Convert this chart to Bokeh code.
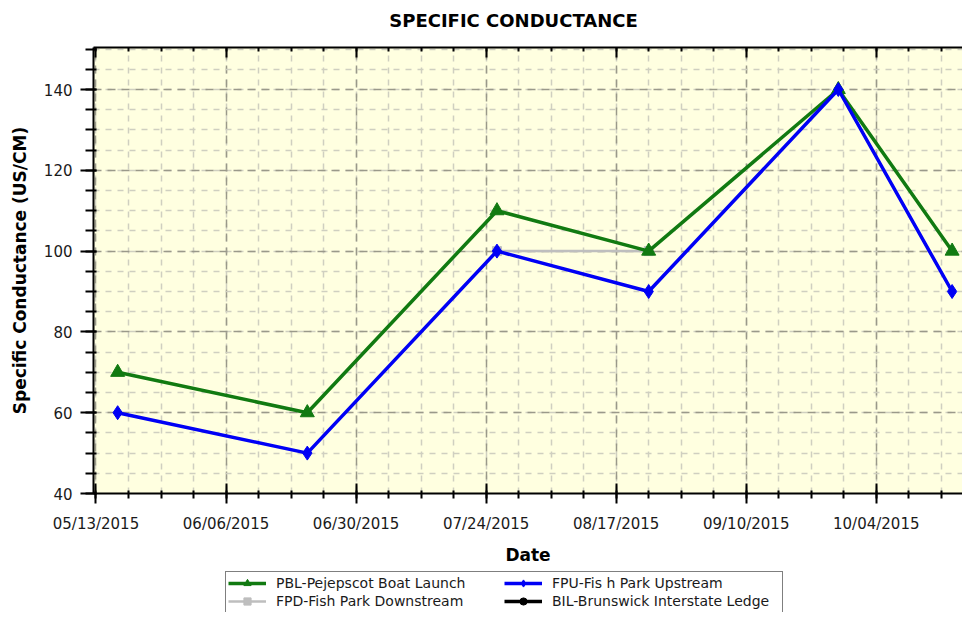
from datetime import datetime
from bokeh.plotting import figure
from bokeh.layouts import column
from bokeh.models import (DatetimeAxis, FixedTicker, DatetimeTickFormatter, Legend, LegendItem,
                          ColumnDataSource, Range1d, Label)
from bokeh.embed import file_html
from bokeh.resources import INLINE

# ---- data ----
dates = ["2015-05-17", "2015-06-21", "2015-07-26", "2015-08-23", "2015-09-27", "2015-10-18"]
pbl = [70, 60, 110, 100, 140, 100]
fpu = [60, 50, 100, 90, 140, 90]
fpd_dates = ["2015-07-26", "2015-08-23"]
fpd = [100, 100]
bil_dates = []
bil = []

major_dates = ["2015-05-13", "2015-06-06", "2015-06-30", "2015-07-24", "2015-08-17",
               "2015-09-10", "2015-10-04", "2015-10-28"]
y_major = [40, 60, 80, 100, 120, 140]
y_minor = list(range(40, 155, 5))

title_text = "SPECIFIC CONDUCTANCE"
x_label = "Date"
y_label = "Specific Conductance (US/CM)"
names = ["PBL-Pejepscot Boat Launch", "FPD-Fish Park Downstream",
         "FPU-Fis h Park Upstream", "BIL-Brunswick Interstate Ledge"]

def to_dt(s):
    return datetime.strptime(s, "%Y-%m-%d")

def ms(d):
    return (d - datetime(1970, 1, 1)).total_seconds() * 1000.0

DAY = 86400000.0
major_ms = [ms(to_dt(d)) for d in major_dates]
minor_ms = []
for m in major_ms:
    for k in range(4):
        minor_ms.append(m + k * 6 * DAY)

FONT = "DejaVu Sans"
W = 962
H_TITLE = 30
H_MAIN = 570 - H_TITLE
H_LEG = 612 - 570
LEFT = 93


def blank_strip(height):
    f = figure(width=W, height=height, output_backend="svg", toolbar_location=None,
               x_range=Range1d(0, 1), y_range=Range1d(0, 1),
               x_axis_location=None, y_axis_location=None)
    f.min_border_left = 0
    f.min_border_right = 0
    f.min_border_top = 0
    f.min_border_bottom = 0
    f.outline_line_color = None
    f.grid.visible = False
    f.background_fill_color = "white"
    f.border_fill_color = "white"
    return f


# ---- title strip ----
p0 = blank_strip(H_TITLE)
p0.add_layout(Label(x=513 - LEFT, y=H_TITLE - 20, x_units="screen", y_units="screen",
                    text=title_text, text_align="center", text_baseline="middle",
                    text_font=FONT, text_font_size="18px", text_font_style="bold",
                    text_color="black"))

# ---- main chart ----
p = figure(width=W, height=H_MAIN, x_axis_type="datetime", output_backend="svg",
           toolbar_location=None,
           x_range=Range1d(datetime(2015, 5, 12, 13), datetime(2015, 10, 19, 22)),
           y_range=Range1d(40, 150.4))
p.min_border_left = LEFT
p.min_border_top = 47 - H_TITLE
p.min_border_bottom = 570 - 493
p.min_border_right = 0
p.background_fill_color = "#FFFFE0"
p.border_fill_color = "white"
p.outline_line_color = None

xt = FixedTicker(ticks=major_ms, minor_ticks=minor_ms)
yt = FixedTicker(ticks=y_major, minor_ticks=y_minor)
fmt = DatetimeTickFormatter(days="%m/%d/%Y", months="%m/%d/%Y", years="%m/%d/%Y",
                            hours="%m/%d/%Y")

xa = p.xaxis[0]
xa.ticker = xt
xa.formatter = fmt
xa.axis_label = x_label
ya = p.yaxis[0]
ya.ticker = yt
ya.axis_label = y_label

for ax in (xa, ya):
    ax.axis_line_color = "black"
    ax.axis_line_width = 2
    ax.major_tick_line_color = "black"
    ax.major_tick_line_width = 2
    ax.minor_tick_line_color = "black"
    ax.minor_tick_line_width = 2
    ax.major_label_text_font = FONT
    ax.major_label_text_font_size = "15px"
    ax.major_label_text_color = "#1a1a1a"
    ax.axis_label_text_font = FONT
    ax.axis_label_text_font_size = "17px"
    ax.axis_label_text_font_style = "bold"
    ax.axis_label_text_color = "black"

xa.major_tick_in = 10
xa.major_tick_out = 10
xa.minor_tick_in = 3
xa.minor_tick_out = 5
xa.major_label_standoff = 11
xa.axis_label_standoff = 9

ya.major_tick_in = 3
ya.major_tick_out = 13
ya.minor_tick_in = 3
ya.minor_tick_out = 8
ya.major_label_standoff = 8
ya.axis_label_standoff = 11

top = DatetimeAxis(ticker=xt, formatter=fmt, axis_line_color="black", axis_line_width=2,
                   major_tick_in=10, major_tick_out=0, minor_tick_in=4, minor_tick_out=0,
                   major_tick_line_width=2, minor_tick_line_width=2,
                   major_label_text_color=None, major_label_text_font_size="1px",
                   major_label_standoff=0)
p.add_layout(top, "above")

for g in (p.xgrid[0], p.ygrid[0]):
    g.grid_line_color = "#9a998a"
    g.grid_line_width = 1.5
    g.grid_line_dash = "8 6"
    g.minor_grid_line_color = "#cfcfc0"
    g.minor_grid_line_width = 1.5
    g.minor_grid_line_dash = "6 6"

green = "#117a11"
blue = "#0000F5"
gray = "#BEBEBE"

series = [
    # name, dates, values, color, marker, marker size, line width
    (names[0], dates, pbl, green, "triangle", 14, 3.5),
    (names[1], fpd_dates, fpd, gray, "square", 9, 2.5),
    (names[2], dates, fpu, blue, "diamond", 14, 3.5),
    (names[3], bil_dates, bil, "black", "circle", 11, 3.5),
]
draw_order = [1, 0, 2, 3]
for i in draw_order:
    name, xs, ys, col, mk, sz, lw = series[i]
    src = ColumnDataSource(dict(x=[to_dt(d) for d in xs], y=ys))
    p.line("x", "y", source=src, line_color=col, line_width=lw)
    p.scatter("x", "y", source=src, marker=mk, size=sz, color=col)

# ---- legend strip (below the chart) ----
p2 = blank_strip(H_LEG)
nan = float("nan")
items = []
for name, xs, ys, col, mk, sz, lw in series:
    src = ColumnDataSource(dict(x=[nan], y=[nan]))
    r1 = p2.line("x", "y", source=src, line_color=col, line_width=lw)
    r2 = p2.scatter("x", "y", source=src, marker=mk, size=sz, color=col)
    items.append(LegendItem(label=name, renderers=[r1, r2]))

LEG_H = 2 * 18 + 2 * 2
legend = Legend(items=items, ncols=2, location=(225 - LEFT, H_LEG - 3 - LEG_H),
                label_width=228, label_height=18,
                glyph_width=38, glyph_height=18, label_standoff=10, spacing=0, padding=2,
                margin=0, border_line_color="black", border_line_width=1.5,
                background_fill_color="white", background_fill_alpha=1,
                label_text_font=FONT, label_text_font_size="14px",
                label_text_color="#1a1a1a")
p2.add_layout(legend, "center")

layout = column(p0, p, p2, spacing=0)
open("out.html", "w").write(file_html(layout, INLINE))
